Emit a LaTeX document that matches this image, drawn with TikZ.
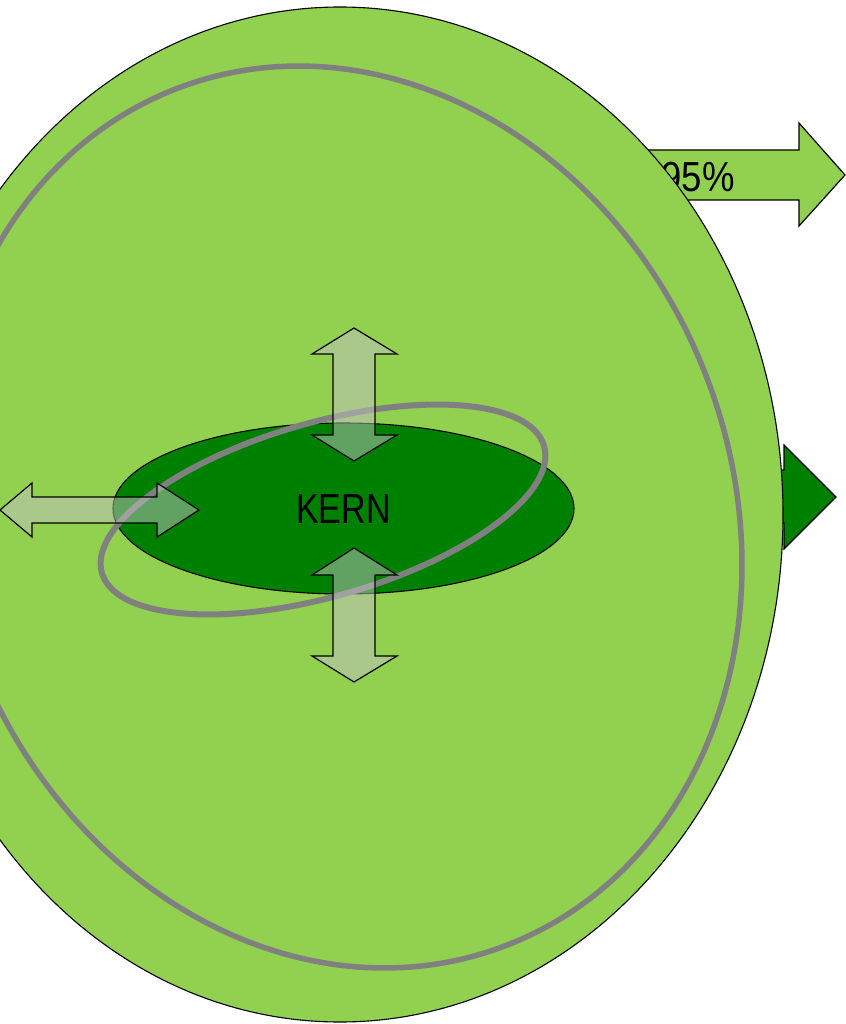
\documentclass[tikz,border=0pt]{standalone}
\usepackage{fontspec}
\setmainfont{Liberation Sans}
\usetikzlibrary{shapes.geometric}
\definecolor{lgreen}{HTML}{92D050}
\definecolor{dgreen}{HTML}{008000}
\definecolor{ringgrey}{HTML}{808080}
\definecolor{arrowfill}{HTML}{C2C2C2}
\tikzset{
  oval/.style={ellipse, inner sep=0pt, outer sep=0pt},
  blockarrow/.style={draw=black, line width=1.2pt, line join=miter},
  softarrow/.style={draw=black, line width=1.2pt, fill=arrowfill, fill opacity=0.5},
  bigtext/.style={font=\fontsize{42}{50}\selectfont, inner sep=0pt}
}
\begin{document}
\begin{tikzpicture}[x=1pt,y=1pt]
\useasboundingbox (0,0) rectangle (845,-1024);
% right arrows behind the cell
\draw[blockarrow, fill=lgreen] (560,-150) -- (799,-150) -- (799,-123) -- (845,-175) -- (799,-226) -- (799,-200) -- (560,-200) -- cycle;
\node[bigtext, anchor=center] (pct) at (698,-177) {\scalebox{0.87}[1]{95\%}};
\draw[blockarrow, fill=dgreen] (600,-470) -- (784,-470) -- (784,-445) -- (836,-497) -- (784,-549) -- (784,-523) -- (600,-523) -- cycle;
% cell
\node[oval, draw=black, line width=1.1pt, fill=lgreen, minimum width=886pt, minimum height=1015pt] (cell) at (340,-514.5) {};
\node[oval, draw=ringgrey, line width=5.5pt, minimum width=782pt, minimum height=918pt, rotate=21] (ring) at (341.5,-517) {};
% nucleus
\node[oval, draw=black, line width=1.1pt, fill=dgreen, minimum width=461pt, minimum height=171pt] (kern) at (343.5,-508.5) {};
\node[oval, draw=ringgrey, line width=6pt, minimum width=460pt, minimum height=174pt, rotate=16] (orbit) at (323,-509.5) {};
% double arrows
\draw[softarrow] (354,-328) -- (397,-354) -- (375,-354) -- (375,-435) -- (397,-435) -- (354,-461) -- (312,-435) -- (333,-435) -- (333,-354) -- (312,-354) -- cycle;
\draw[softarrow] (354,-548) -- (397,-575) -- (375,-575) -- (375,-656) -- (397,-656) -- (354,-682) -- (312,-656) -- (333,-656) -- (333,-575) -- (312,-575) -- cycle;
\draw[softarrow] (0,-510) -- (32,-483) -- (32,-497) -- (157,-497) -- (157,-483) -- (199,-510) -- (157,-537) -- (157,-523) -- (32,-523) -- (32,-537) -- cycle;
\node[bigtext, anchor=center] (kerntext) at (343.5,-509) {\scalebox{0.81}[1]{KERN}};
\end{tikzpicture}
\end{document}
